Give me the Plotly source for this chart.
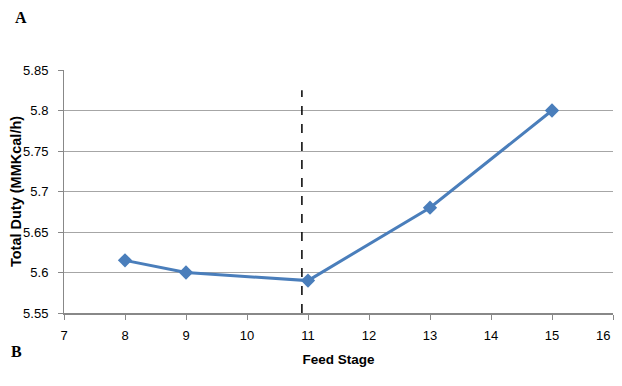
import plotly.graph_objects as go

feed_stage = [8, 9, 11, 13, 15]
total_duty = [5.615, 5.6, 5.59, 5.68, 5.8]
optimum_x = [10.9, 10.9]
optimum_y = [5.55, 5.825]
x_tick_values = [7, 8, 9, 10, 11, 12, 13, 14, 15, 16]
x_tick_labels = ["7", "8", "9", "10", "11", "12", "13", "14", "15", "16"]

fig = go.Figure()
fig.add_trace(go.Scatter(x=optimum_x, y=optimum_y, mode="lines",
                         line=dict(color="black", width=1.5, dash="dash"),
                         showlegend=False, hoverinfo="skip"))
fig.add_trace(go.Scatter(x=feed_stage, y=total_duty, mode="lines+markers",
                         line=dict(color="#4A7EBB", width=3),
                         marker=dict(symbol="diamond", size=11, color="#4A7EBB"),
                         showlegend=False))

font = "Liberation Sans, Arial, sans-serif"
# last tick label sits at the very edge of the page: draw it as a right-anchored note
shown_labels = x_tick_labels[:-1] + [""]
fig.update_layout(
    width=606, height=370,
    margin=dict(l=56, r=1, t=62, b=65),
    paper_bgcolor="white", plot_bgcolor="white",
    font=dict(family=font, size=13, color="black"),
    xaxis=dict(range=[7, 16], tickvals=x_tick_values, ticktext=shown_labels,
               showgrid=False, showline=True,
               linecolor="#888888", linewidth=1.5, ticks="outside",
               tickcolor="#888888", ticklen=5, zeroline=False, automargin=False,
               ticklabelstandoff=5,
               title=dict(text="<b>Feed Stage</b>", font=dict(size=13.5), standoff=12)),
    yaxis=dict(range=[5.55, 5.85], dtick=0.05, showgrid=True, gridcolor="#A6A6A6",
               gridwidth=1, showline=True, linecolor="#888888", linewidth=1,
               ticks="outside", tickcolor="#888888", ticklen=5, zeroline=False,
               tickformat="~g", automargin=False, ticklabelstandoff=7,
               title=dict(text="<b>Total Duty (MMKcal/h)</b>", font=dict(size=14.5), standoff=0)),
    annotations=[
        dict(text=x_tick_labels[-1], xref="x", yref="paper", x=x_tick_values[-1], y=0,
             xanchor="right", yanchor="middle", yshift=-22, xshift=-1, showarrow=False,
             font=dict(family=font, size=13, color="black")),
        dict(text="<b>A</b>", xref="paper", yref="paper", x=-0.093, y=1.218,
             xanchor="left", yanchor="middle", showarrow=False,
             font=dict(family="Liberation Serif, Times New Roman, serif", size=16)),
        dict(text="<b>B</b>", xref="paper", yref="paper", x=-0.1, y=-0.16,
             xanchor="left", yanchor="middle", showarrow=False,
             font=dict(family="Liberation Serif, Times New Roman, serif", size=16)),
    ],
)
fig.write_html("out.html")
